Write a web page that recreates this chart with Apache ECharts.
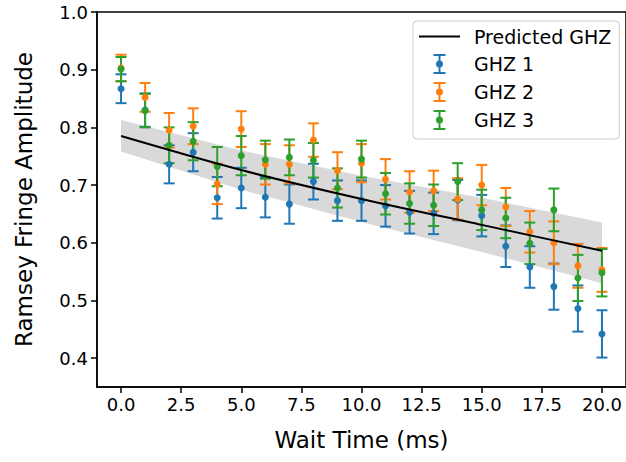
<!DOCTYPE html>
<html>
<head>
<meta charset="utf-8">
<script src="https://cdn.jsdelivr.net/npm/echarts@6/dist/echarts.min.js"></script>
<style>
  html, body { margin: 0; padding: 0; background: #fff; }
  #chart { width: 626px; height: 462px; }
</style>
</head>
<body>
<div id="chart"></div>
<script>
// wait times (ms)
const waitTime = [0, 1, 2, 3, 4, 5, 6, 7, 8, 9, 10, 11, 12, 13, 14, 15, 16, 17, 18, 19, 20];

const ghz1 = [0.867, 0.830, 0.736, 0.757, 0.678, 0.695, 0.679, 0.667, 0.706, 0.673, 0.673,
              0.664, 0.653, 0.651, 0.674, 0.647, 0.594, 0.558, 0.524, 0.486, 0.442];
const ghz1Err = [0.025, 0.029, 0.033, 0.033, 0.036, 0.035, 0.035, 0.034, 0.031, 0.035, 0.035,
                 0.036, 0.037, 0.036, 0.035, 0.036, 0.036, 0.036, 0.040, 0.040, 0.041];
const ghz2 = [0.903, 0.852, 0.795, 0.802, 0.702, 0.797, 0.736, 0.736, 0.778, 0.725, 0.738,
              0.710, 0.688, 0.690, 0.676, 0.700, 0.662, 0.619, 0.600, 0.560, 0.553];
const ghz2Err = [0.023, 0.025, 0.030, 0.031, 0.035, 0.031, 0.035, 0.033, 0.029, 0.032, 0.033,
                 0.035, 0.036, 0.035, 0.036, 0.035, 0.033, 0.036, 0.037, 0.038, 0.038];
const ghz3 = [0.901, 0.829, 0.769, 0.776, 0.732, 0.751, 0.744, 0.748, 0.743, 0.695, 0.745,
              0.685, 0.668, 0.665, 0.706, 0.657, 0.643, 0.599, 0.657, 0.539, 0.548];
const ghz3Err = [0.021, 0.029, 0.031, 0.033, 0.034, 0.034, 0.033, 0.031, 0.030, 0.034, 0.032,
                 0.036, 0.035, 0.036, 0.032, 0.035, 0.035, 0.036, 0.037, 0.040, 0.041];

// predicted curve and its uncertainty band
const predX = [0, 5, 10, 15, 20];
const predY = [0.785, 0.726, 0.676, 0.631, 0.586];
const bandLow = [0.758, 0.692, 0.636, 0.584, 0.530];
const bandHigh = [0.813, 0.760, 0.716, 0.678, 0.635];

const xTicks = [0, 2.5, 5, 7.5, 10, 12.5, 15, 17.5, 20];
const yTicks = [0.4, 0.5, 0.6, 0.7, 0.8, 0.9, 1.0];

const FONT = 'DejaVu Sans';
const C1 = '#1f77b4', C2 = '#ff7f0e', C3 = '#2ca02c';
const ERR_ICON = 'path://M0,0H12V2H0Z M5,0H7V20H5Z M0,18H12V20H0Z M2.5,10A3.5,3.5 0 1 1 9.5,10A3.5,3.5 0 1 1 2.5,10Z';

const chart = echarts.init(document.getElementById('chart'), null, { renderer: 'svg' });

function errorBars(params, api) {
  const x = api.value(0), y = api.value(1), e = api.value(2);
  const top = api.coord([x, y + e]);
  const bot = api.coord([x, y - e]);
  const hw = 5.5;
  const style = { stroke: api.visual('color'), lineWidth: 2 };
  return {
    type: 'group',
    children: [
      { type: 'line', shape: { x1: top[0], y1: top[1], x2: bot[0], y2: bot[1] }, style },
      { type: 'line', shape: { x1: top[0] - hw, y1: top[1], x2: top[0] + hw, y2: top[1] }, style },
      { type: 'line', shape: { x1: bot[0] - hw, y1: bot[1], x2: bot[0] + hw, y2: bot[1] }, style },
    ],
  };
}

function band(params, api) {
  if (params.dataIndex !== 0) return;
  const pts = [];
  predX.forEach((x, i) => pts.push(api.coord([x, bandHigh[i]])));
  for (let i = predX.length - 1; i >= 0; i--) pts.push(api.coord([predX[i], bandLow[i]]));
  return { type: 'polygon', shape: { points: pts }, style: { fill: '#d9d9d9' } };
}

function seriesFor(name, vals, errs, color) {
  return [
    {
      name, type: 'custom', renderItem: errorBars,
      itemStyle: { color },
      data: waitTime.map((x, i) => [x, vals[i], errs[i]]),
      encode: { x: 0, y: 1 },
      silent: true,
    },
    {
      name, type: 'scatter', symbolSize: 7,
      itemStyle: { color, opacity: 1 },
      data: waitTime.map((x, i) => [x, vals[i]]),
      silent: true,
    },
  ];
}

const axisText = { fontFamily: FONT, fontSize: 18, color: '#000' };

chart.setOption({
  animation: false,
  grid: {
    left: 97, right: -3, top: 12, bottom: 75,
    show: true, borderColor: '#000', borderWidth: 1.5,
  },
  xAxis: {
    type: 'value', min: -1, max: 21,
    name: 'Wait Time (ms)', nameLocation: 'middle', nameGap: 41,
    nameTextStyle: { fontFamily: FONT, fontSize: 23, color: '#000' },
    axisLine: { show: true, onZero: false, lineStyle: { color: '#000', width: 1.5 } },
    axisTick: { show: true, length: 6, lineStyle: { color: '#000', width: 1.5 }, customValues: xTicks },
    axisLabel: { ...axisText, margin: 8, customValues: xTicks, formatter: (v) => v.toFixed(1) },
    splitLine: { show: false },
  },
  yAxis: {
    type: 'value', min: 0.35, max: 1.0,
    name: 'Ramsey Fringe Amplitude', nameLocation: 'middle', nameGap: 62,
    nameTextStyle: { fontFamily: FONT, fontSize: 23, color: '#000' },
    axisLine: { show: true, onZero: false, lineStyle: { color: '#000', width: 1.5 } },
    axisTick: { show: true, length: 6, lineStyle: { color: '#000', width: 1.5 }, customValues: yTicks },
    axisLabel: { ...axisText, margin: 9, customValues: yTicks, formatter: (v) => v.toFixed(1) },
    splitLine: { show: false },
  },
  legend: {
    orient: 'vertical', left: 413, top: 21,
    backgroundColor: 'rgba(255,255,255,0.8)',
    borderColor: '#cccccc', borderWidth: 1, borderRadius: 4,
    padding: [6, 8, 9, 6],
    itemWidth: 41, itemHeight: 20, itemGap: 8,
    selectedMode: false,
    itemStyle: { borderWidth: 0 },
    textStyle: { fontFamily: FONT, fontSize: 19, color: '#000', padding: [0, 0, 0, 9] },
    data: [
      { name: 'Predicted GHZ', icon: 'path://M0,0H41V2H0Z', itemStyle: { color: '#000' } },
      { name: 'GHZ 1', icon: ERR_ICON, itemStyle: { color: C1 } },
      { name: 'GHZ 2', icon: ERR_ICON, itemStyle: { color: C2 } },
      { name: 'GHZ 3', icon: ERR_ICON, itemStyle: { color: C3 } },
    ],
  },
  series: [
    {
      name: 'band', type: 'custom', renderItem: band, silent: true,
      data: predX.map((x, i) => [x, bandLow[i], bandHigh[i]]),
      encode: { x: 0, y: [1, 2] },
    },
    {
      name: 'Predicted GHZ', type: 'line', showSymbol: false, symbol: 'none',
      data: predX.map((x, i) => [x, predY[i]]),
      smooth: 0.3,
      lineStyle: { color: '#000', width: 2 },
      itemStyle: { color: '#000' },
      silent: true,
    },
    ...seriesFor('GHZ 1', ghz1, ghz1Err, C1),
    ...seriesFor('GHZ 2', ghz2, ghz2Err, C2),
    ...seriesFor('GHZ 3', ghz3, ghz3Err, C3),
  ],
});
</script>
</body>
</html>
